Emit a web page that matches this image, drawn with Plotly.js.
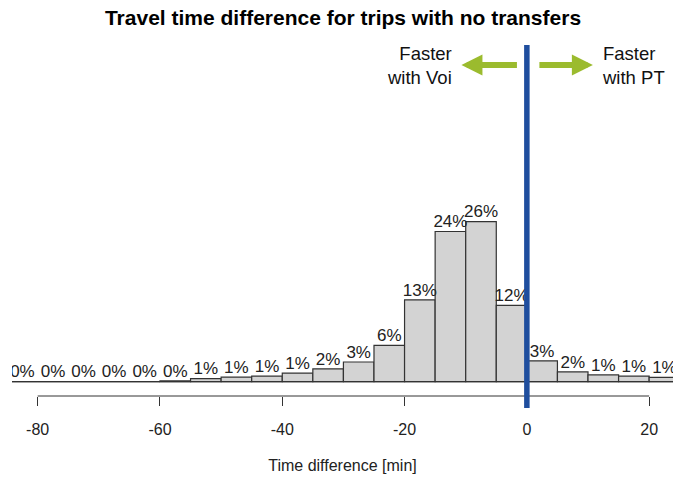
<!DOCTYPE html>
<html>
<head>
<meta charset="utf-8">
<script src="https://cdn.plot.ly/plotly-3.0.1.min.js"></script>
<style>html,body{margin:0;padding:0;background:#fff;}#chart{width:673px;height:482px;}</style>
</head>
<body>
<div id="chart"></div>
<script>
// Bin centres (width 5 min) of the travel-time-difference histogram
const binCenters = [-82.5, -77.5, -72.5, -67.5, -62.5, -57.5, -52.5, -47.5, -42.5, -37.5, -32.5, -27.5, -22.5, -17.5, -12.5, -7.5, -2.5, 2.5, 7.5, 12.5, 17.5, 22.5];
const binWidth = 5;
// Share of trips per bin (%)
const sharePct = [0, 0, 0, 0, 0, 0.15, 0.5, 0.75, 0.9, 1.4, 2.1, 3.2, 5.9, 13.3, 24.4, 26.0, 12.4, 3.4, 1.6, 1.1, 0.9, 0.7];
// Labels printed above bars
const shareLabels = ["0%", "0%", "0%", "0%", "0%", "0%", "1%", "1%", "1%", "1%", "2%", "3%", "6%", "13%", "24%", "26%", "12%", "3%", "2%", "1%", "1%", "1%"];
const tickValues = [-80, -60, -40, -20, 0, 20];
const tickLabels = ["-80", "-60", "-40", "-20", "0", "20"];

const FONT = "Liberation Sans, Arial, sans-serif";
const binStart = binCenters[0] - binWidth / 2;
const binEnd = binCenters[binCenters.length - 1] + binWidth / 2;

const bars = {
  type: "bar",
  x: binCenters,
  y: sharePct,
  width: binCenters.map(() => binWidth),
  marker: { color: "#d3d3d3", line: { color: "#333333", width: 1.2 } },
  hoverinfo: "skip",
  showlegend: false
};

const labels = {
  type: "scatter",
  mode: "text",
  x: binCenters,
  y: sharePct,
  text: shareLabels,
  textposition: "top center",
  textfont: { family: FONT, size: 17, color: "#222222" },
  hoverinfo: "skip",
  showlegend: false,
  cliponaxis: true
};

const layout = {
  width: 673,
  height: 482,
  margin: { l: 12, r: 0, t: 40, b: 86 },
  paper_bgcolor: "#ffffff",
  plot_bgcolor: "#ffffff",
  bargap: 0,
  title: {
    text: "<b>Travel time difference for trips with no transfers</b>",
    font: { family: FONT, size: 21, color: "#000000" },
    x: 343 / 673, xref: "container", xanchor: "center",
    y: 1 - 18 / 482, yref: "container", yanchor: "middle"
  },
  xaxis: {
    range: [-84.2, 23.9],
    tickvals: tickValues,
    ticktext: tickLabels,
    ticks: "outside",
    ticklen: 9,
    tickwidth: 1,
    tickcolor: "#333333",
    ticklabelstandoff: 10,
    tickfont: { family: FONT, size: 16, color: "#222222" },
    showgrid: false,
    zeroline: false,
    showline: false,
    title: { text: "Time difference [min]", font: { family: FONT, size: 16, color: "#222222" }, standoff: 22 },
    automargin: false
  },
  yaxis: {
    range: [-2.32, 55.5],
    visible: false,
    showgrid: false,
    zeroline: false
  },
  shapes: [
    // baseline under the bars
    { type: "line", xref: "x", yref: "y", x0: binStart, x1: binEnd, y0: 0, y1: 0, line: { color: "#333333", width: 1.2 }, layer: "above" },
    // R-style axis line spanning the ticks
    { type: "line", xref: "x", yref: "paper", x0: tickValues[0], x1: tickValues[tickValues.length - 1], y0: 0, y1: 0, line: { color: "#333333", width: 1 } },
    // zero reference line
    { type: "line", xref: "x", yref: "paper", x0: 0, x1: 0, y0: -0.034, y1: 0.986, line: { color: "#1f4e9e", width: 5.5 }, layer: "above" }
  ],
  annotations: [
    { xref: "x", yref: "paper", x: -10.7, y: (396 - 65) / 356, ax: 57, ay: 0, text: "", showarrow: true,
      arrowhead: 2, arrowsize: 0.7, arrowwidth: 6, arrowcolor: "#9bbb2e", standoff: 0, startstandoff: 0 },
    { xref: "x", yref: "paper", x: 10.8, y: (396 - 65) / 356, ax: -55, ay: 0, text: "", showarrow: true,
      arrowhead: 2, arrowsize: 0.7, arrowwidth: 6, arrowcolor: "#9bbb2e", standoff: 0, startstandoff: 0 },
    { xref: "paper", yref: "paper", x: (454 - 12) / 661, y: (396 - 66) / 356, xanchor: "right", yanchor: "middle", align: "right",
      text: "Faster<br>with Voi", showarrow: false, font: { family: FONT, size: 18.5, color: "#111111" } },
    { xref: "paper", yref: "paper", x: (600 - 12) / 661, y: (396 - 66) / 356, xanchor: "left", yanchor: "middle", align: "left",
      text: "Faster<br>with PT", showarrow: false, font: { family: FONT, size: 18.5, color: "#111111" } }
  ]
};

Plotly.newPlot("chart", [bars, labels], layout, { staticPlot: true, displayModeBar: false });
</script>
</body>
</html>
